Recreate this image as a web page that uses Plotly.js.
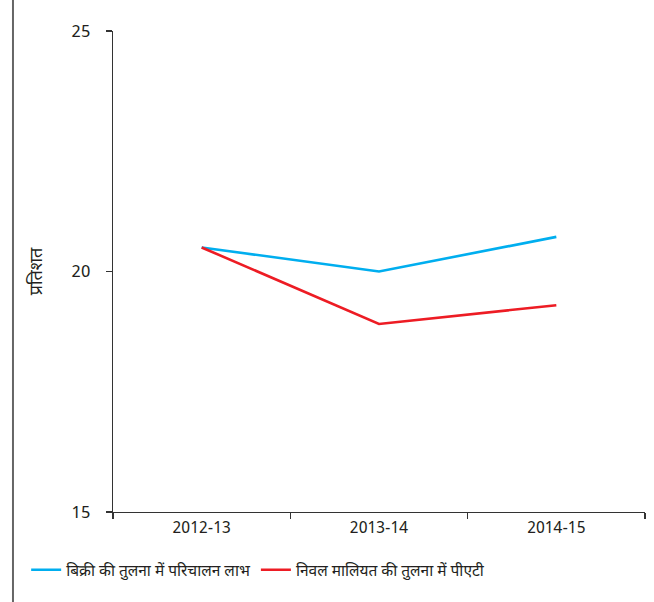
<!DOCTYPE html>
<html>
<head>
<meta charset="utf-8">
<script src="https://cdn.plot.ly/plotly-3.0.1.min.js"></script>
<style>body{margin:0;padding:0;background:#fff;}#chart{width:654px;height:602px;}</style>
</head>
<body>
<div id="chart"></div>
<script>
const years = ["2012-13", "2013-14", "2014-15"];
const opProfitToSales = [20.5, 20.0, 20.72];
const patToNetWorth = [20.5, 18.91, 19.3];
const seriesNames = ["बिक्री की तुलना में परिचालन लाभ", "निवल मालियत की तुलना में पीएटी"];
const yTicks = [15, 20, 25];
const yTitle = "प्रतिशत";

const FONT = "'Noto Sans Devanagari', 'Noto Sans', 'Liberation Sans', sans-serif";

const traces = [
  {x: years, y: opProfitToSales, name: seriesNames[0], type: "scatter", mode: "lines",
   line: {color: "#00aeef", width: 2.6}},
  {x: years, y: patToNetWorth, name: seriesNames[1], type: "scatter", mode: "lines",
   line: {color: "#ed1c24", width: 2.6}}
];

const layout = {
  width: 654, height: 602,
  margin: {l: 113, r: 9, t: 31, b: 90, autoexpand: false},
  paper_bgcolor: "#fff", plot_bgcolor: "#fff",
  font: {family: FONT, color: "#231f20", size: 16},
  showlegend: true,
  legend: {orientation: "h", xref: "container", yref: "container",
           x: 0.04, xanchor: "left", y: 0.081, yanchor: "top",
           font: {size: 15.5, color: "#231f20"}, itemwidth: 30, tracegroupgap: 0},
  xaxis: {type: "category", range: [-0.5, 2.5], tickson: "boundaries",
          showline: true, linecolor: "#333", linewidth: 1.3,
          ticks: "outside", ticklen: 6, tickcolor: "#333", tickwidth: 1.3,
          showgrid: false, zeroline: false, tickfont: {size: 16}},
  yaxis: {range: [15, 25], tickvals: yTicks, showline: true, linecolor: "#333", linewidth: 1.3,
          ticks: "outside", ticklen: 6, tickcolor: "#333", tickwidth: 1.3,
          showgrid: false, zeroline: false, tickfont: {size: 17}, ticklabelstandoff: 12,
          title: {text: yTitle, font: {size: 18}, standoff: 24}},
  shapes: [
    {type: "line", xref: "paper", yref: "paper", x0: -0.188, x1: -0.188, y0: -0.3, y1: 1.2,
     line: {color: "#666", width: 2}}
  ]
};

Plotly.newPlot("chart", traces, layout, {displayModeBar: false, staticPlot: true});
</script>
</body>
</html>
